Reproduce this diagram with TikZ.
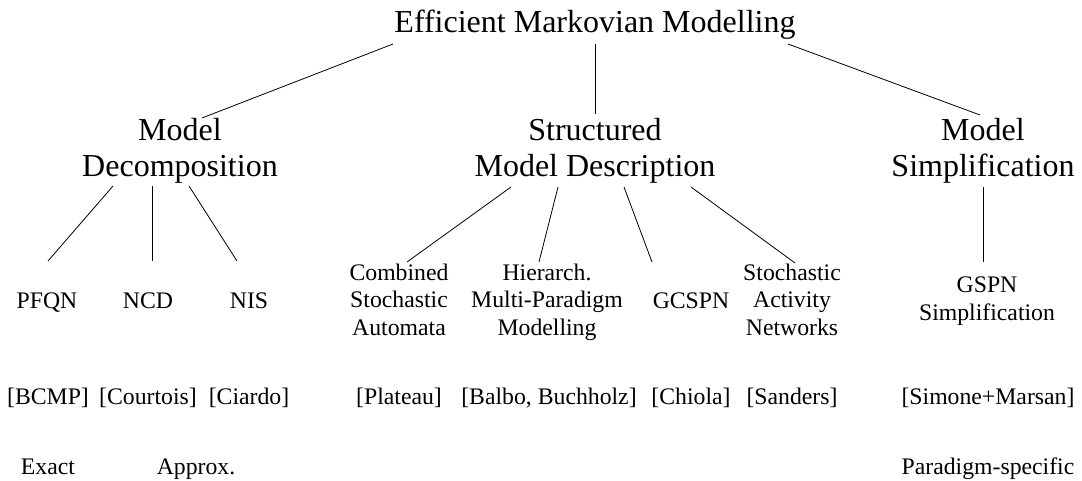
\documentclass[tikz,border=0pt]{standalone}
\usepackage{fontspec}
\setmainfont{Liberation Serif}
\begin{document}
\begin{tikzpicture}[x=0.75pt,y=-0.75pt,
  big/.style={font=\fontsize{24}{27.75}\selectfont, align=center, inner sep=0pt, anchor=base},
  small/.style={font=\fontsize{17.8}{20.6}\selectfont, align=center, inner sep=0pt, anchor=base},
  link/.style={draw=black, line width=0.6pt}]
\useasboundingbox (0,0) rectangle (1082,481);

% root
\node[big] (root) at (595,33) {Efficient Markovian Modelling};

% second level
\node[big] (md)  at (180,177) {Model\\Decomposition};
\node[big] (smd) at (595,177) {Structured\\Model Description};
\node[big] (ms)  at (983,177) {Model\\Simplification};

% third level: techniques
\node[small] (pfqn)  at (47,308)  {PFQN};
\node[small] (ncd)   at (148,308) {NCD};
\node[small] (nis)   at (249,308) {NIS};
\node[small] (csa)   at (399,335) {Combined\\Stochastic\\Automata};
\node[small] (hmpm)  at (547,335) {Hierarch.\\Multi-Paradigm\\Modelling};
\node[small] (gcspn) at (691,308) {GCSPN};
\node[small] (san)   at (792,335) {Stochastic\\Activity\\Networks};
\node[small] (gspn)  at (987,320) {GSPN\\Simplification};

% references
\node[small] (bcmp)    at (48,404)  {[BCMP]};
\node[small] (court)   at (148,404) {[Courtois]};
\node[small] (ciardo)  at (249,404) {[Ciardo]};
\node[small] (plateau) at (399,404) {[Plateau]};
\node[small] (balbo)   at (549,404) {[Balbo, Buchholz]};
\node[small] (chiola)  at (691,404) {[Chiola]};
\node[small] (sanders) at (792,404) {[Sanders]};
\node[small] (simone)  at (988,404) {[Simone+Marsan]};

% classification
\node[small] (exact)  at (48,474)  {Exact};
\node[small] (approx) at (196,474) {Approx.};
\node[small] (parad)  at (988,474) {Paradigm-specific};

% root to second level
\draw[link] ([shift={(-202,11)}]root.base) -- ([shift={(22,-59)}]md.base);
\draw[link] ([shift={(0,11)}]root.base) -- ([shift={(0,-63)}]smd.base);
\draw[link] ([shift={(193,11)}]root.base) -- ([shift={(-3,-62)}]ms.base);

% decomposition branches
\draw[link] ([shift={(-67,9)}]md.base) -- ([shift={(1,-47)}]pfqn.base);
\draw[link] ([shift={(-28,9)}]md.base) -- ([shift={(4,-47)}]ncd.base);
\draw[link] ([shift={(9,9)}]md.base) -- ([shift={(-12,-47)}]nis.base);

% structured description branches
\draw[link] ([shift={(-84,10)}]smd.base) -- ([shift={(8,-73)}]csa.base);
\draw[link] ([shift={(-37,10)}]smd.base) -- ([shift={(-8,-73)}]hmpm.base);
\draw[link] ([shift={(29,10)}]smd.base) -- ([shift={(-39,-46)}]gcspn.base);
\draw[link] ([shift={(96,10)}]smd.base) -- ([shift={(3,-72)}]san.base);

% simplification branch
\draw[link] ([shift={(0,10)}]ms.base) -- ([shift={(-4,-58)}]gspn.base);
\end{tikzpicture}
\end{document}
